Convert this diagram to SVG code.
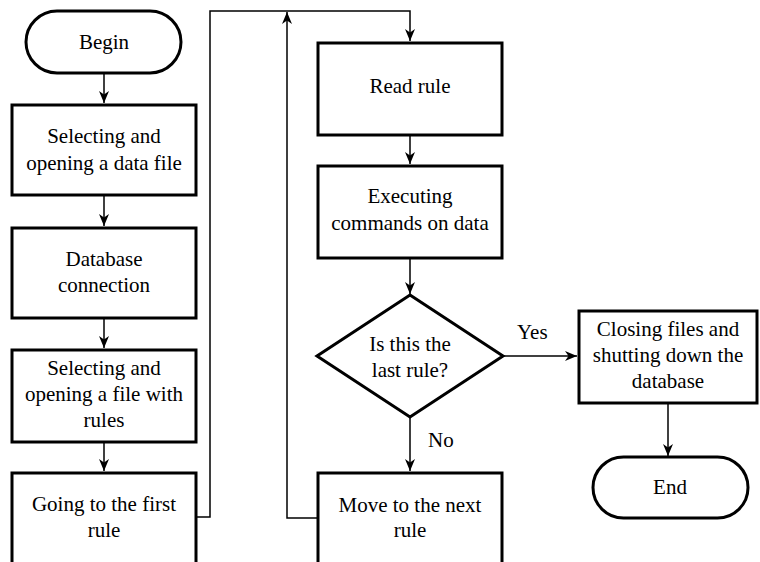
<svg xmlns="http://www.w3.org/2000/svg" width="760" height="562" viewBox="0 0 760 562">
  <style>
    .box { fill: #ffffff; stroke: #000000; stroke-width: 3; }
    .line { fill: none; stroke: #000000; stroke-width: 1.5; }
    text { font-size: 21px; fill: #000000; }
    .t { text-anchor: middle; }
    .lbl { text-anchor: start; }
  </style>
  <defs>
    <marker id="arrow" markerUnits="userSpaceOnUse" markerWidth="14" markerHeight="12" refX="12" refY="5" orient="auto">
      <path d="M0,0 L12,5 L0,10 L3.5,5 z" fill="#000000"/>
    </marker>
  </defs>
  <rect width="760" height="562" fill="#ffffff"/>

  <g id="connectors" font-family="Liberation Serif, DejaVu Serif, serif">
    <line class="line" x1="104" y1="73" x2="104" y2="103" marker-end="url(#arrow)"/>
    <line class="line" x1="104" y1="196" x2="104" y2="226" marker-end="url(#arrow)"/>
    <line class="line" x1="104" y1="318" x2="104" y2="348" marker-end="url(#arrow)"/>
    <line class="line" x1="104" y1="442" x2="104" y2="471" marker-end="url(#arrow)"/>
    <path class="line" d="M196,517 H210 V11 H410 V41" marker-end="url(#arrow)"/>
    <line class="line" x1="410" y1="135" x2="410" y2="164" marker-end="url(#arrow)"/>
    <line class="line" x1="410" y1="258" x2="410" y2="294" marker-end="url(#arrow)"/>
    <line class="line" x1="410" y1="417" x2="410" y2="471" marker-end="url(#arrow)"/>
    <line class="line" x1="503" y1="356" x2="577" y2="356" marker-end="url(#arrow)"/>
    <line class="line" x1="668" y1="403" x2="668" y2="456" marker-end="url(#arrow)"/>
    <path class="line" d="M317,518 H287 V12" marker-end="url(#arrow)"/>
    <text class="lbl" x="428" y="447">No</text>
    <text class="lbl" x="517" y="339">Yes</text>
  </g>

  <g id="begin" font-family="Liberation Serif, DejaVu Serif, serif">
    <rect class="box" x="26" y="11" width="155" height="62" rx="31" ry="31"/>
    <text class="t" x="104" y="49">Begin</text>
  </g>

  <g id="select-data-file" font-family="Liberation Serif, DejaVu Serif, serif">
    <rect class="box" x="12" y="105" width="184" height="90"/>
    <text class="t" x="104" y="143">Selecting and</text>
    <text class="t" x="104" y="170">opening a data file</text>
  </g>

  <g id="database-connection" font-family="Liberation Serif, DejaVu Serif, serif">
    <rect class="box" x="12" y="228" width="184" height="90"/>
    <text class="t" x="104" y="266">Database</text>
    <text class="t" x="104" y="292">connection</text>
  </g>

  <g id="select-rules-file" font-family="Liberation Serif, DejaVu Serif, serif">
    <rect class="box" x="12" y="350" width="184" height="92"/>
    <text class="t" x="104" y="375">Selecting and</text>
    <text class="t" x="104" y="401">opening a file with</text>
    <text class="t" x="104" y="427">rules</text>
  </g>

  <g id="first-rule" font-family="Liberation Serif, DejaVu Serif, serif">
    <rect class="box" x="12" y="473" width="184" height="130"/>
    <text class="t" x="104" y="511">Going to the first</text>
    <text class="t" x="104" y="537">rule</text>
  </g>

  <g id="read-rule" font-family="Liberation Serif, DejaVu Serif, serif">
    <rect class="box" x="318" y="43" width="184" height="92"/>
    <text class="t" x="410" y="93">Read rule</text>
  </g>

  <g id="execute" font-family="Liberation Serif, DejaVu Serif, serif">
    <rect class="box" x="318" y="166" width="184" height="92"/>
    <text class="t" x="410" y="203">Executing</text>
    <text class="t" x="410" y="230">commands on data</text>
  </g>

  <g id="decision" font-family="Liberation Serif, DejaVu Serif, serif">
    <polygon class="box" points="410,295 503,356 410,417 317,356"/>
    <text class="t" x="410" y="351">Is this the</text>
    <text class="t" x="410" y="377">last rule?</text>
  </g>

  <g id="next-rule" font-family="Liberation Serif, DejaVu Serif, serif">
    <rect class="box" x="318" y="473" width="184" height="130"/>
    <text class="t" x="410" y="512">Move to the next</text>
    <text class="t" x="410" y="537">rule</text>
  </g>

  <g id="closing" font-family="Liberation Serif, DejaVu Serif, serif">
    <rect class="box" x="579" y="311" width="178" height="92"/>
    <text class="t" x="668" y="336">Closing files and</text>
    <text class="t" x="668" y="362">shutting down the</text>
    <text class="t" x="668" y="388">database</text>
  </g>

  <g id="end" font-family="Liberation Serif, DejaVu Serif, serif">
    <rect class="box" x="593" y="457" width="155" height="61" rx="30.5" ry="30.5"/>
    <text class="t" x="670" y="494">End</text>
  </g>
</svg>
